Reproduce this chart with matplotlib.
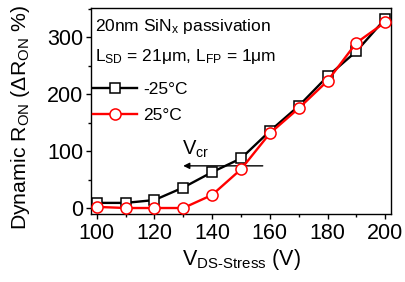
import matplotlib
matplotlib.use("Agg")
import matplotlib.pyplot as plt
from matplotlib.ticker import MultipleLocator

plt.rcParams['font.family'] = ['Liberation Sans', 'DejaVu Sans']
plt.rcParams['mathtext.fontset'] = 'custom'
plt.rcParams['mathtext.rm'] = 'Liberation Sans'
plt.rcParams['mathtext.it'] = 'Liberation Sans'
plt.rcParams['mathtext.default'] = 'regular'

v_stress = [100, 110, 120, 130, 140, 150, 160, 170, 180, 190, 200]
ron_m25 = [9, 9, 14, 36, 63, 87, 135, 179, 231, 275, 332]
ron_25 = [2, 0, 0, 0, 23, 68, 131, 175, 223, 290, 326]

fig = plt.figure(figsize=(4.06, 2.82), dpi=100)
ax = fig.add_axes([91/406, 1-214/282, 300/406, 206/282])

ax.plot(v_stress, ron_m25, color='black', lw=1.7, marker='s', ms=7,
        mfc='white', mec='black', mew=1.1, label='-25°C', zorder=3)
ax.plot(v_stress, ron_25, color='#ff0000', lw=1.7, marker='o', ms=8,
        mfc='white', mec='#ff0000', mew=1.1, label='25°C', zorder=4)

ax.set_xlim(98, 202)
ax.set_ylim(-10.5, 351)
ax.xaxis.set_major_locator(MultipleLocator(20))
ax.xaxis.set_minor_locator(MultipleLocator(10))
ax.yaxis.set_major_locator(MultipleLocator(100))
ax.yaxis.set_minor_locator(MultipleLocator(50))
ax.tick_params(which='both', direction='out', labelsize=15.5, width=1)
ax.tick_params(which='major', length=3.5)
ax.tick_params(which='minor', length=2)
ax.tick_params(axis='x', pad=3)
ax.tick_params(axis='y', pad=2)
for s in ax.spines.values():
    s.set_linewidth(1)

ax.set_xlabel('V$_{DS\\text{-}Stress}$ (V)', fontsize=15.5, labelpad=2)
ax.set_ylabel('Dynamic R$_{ON}$ ($\\Delta$R$_{ON}$ %)', fontsize=15.3)
ax.yaxis.set_label_coords(-0.195, 0.47)

ax.text(0.013, 0.955, '20nm SiN$_x$ passivation', transform=ax.transAxes,
        fontsize=12.5, va='top', ha='left')
ax.text(0.013, 0.81, 'L$_{SD}$ = 21μm, L$_{FP}$ = 1μm', transform=ax.transAxes,
        fontsize=12.5, va='top', ha='left')

leg = ax.legend(loc='upper left', bbox_to_anchor=(-0.015, 0.675), frameon=False,
                fontsize=12.5, handlelength=2.5, handletextpad=0.35,
                labelspacing=0.6, borderaxespad=0)

ax.annotate('', xy=(129, 74), xytext=(158.5, 74),
            arrowprops=dict(arrowstyle='-|>', color='black', lw=1,
                            mutation_scale=9))
ax.text(129.5, 85, 'V$_{cr}$', fontsize=14.5, ha='left', va='bottom')

fig.savefig('out.png', dpi=100)
